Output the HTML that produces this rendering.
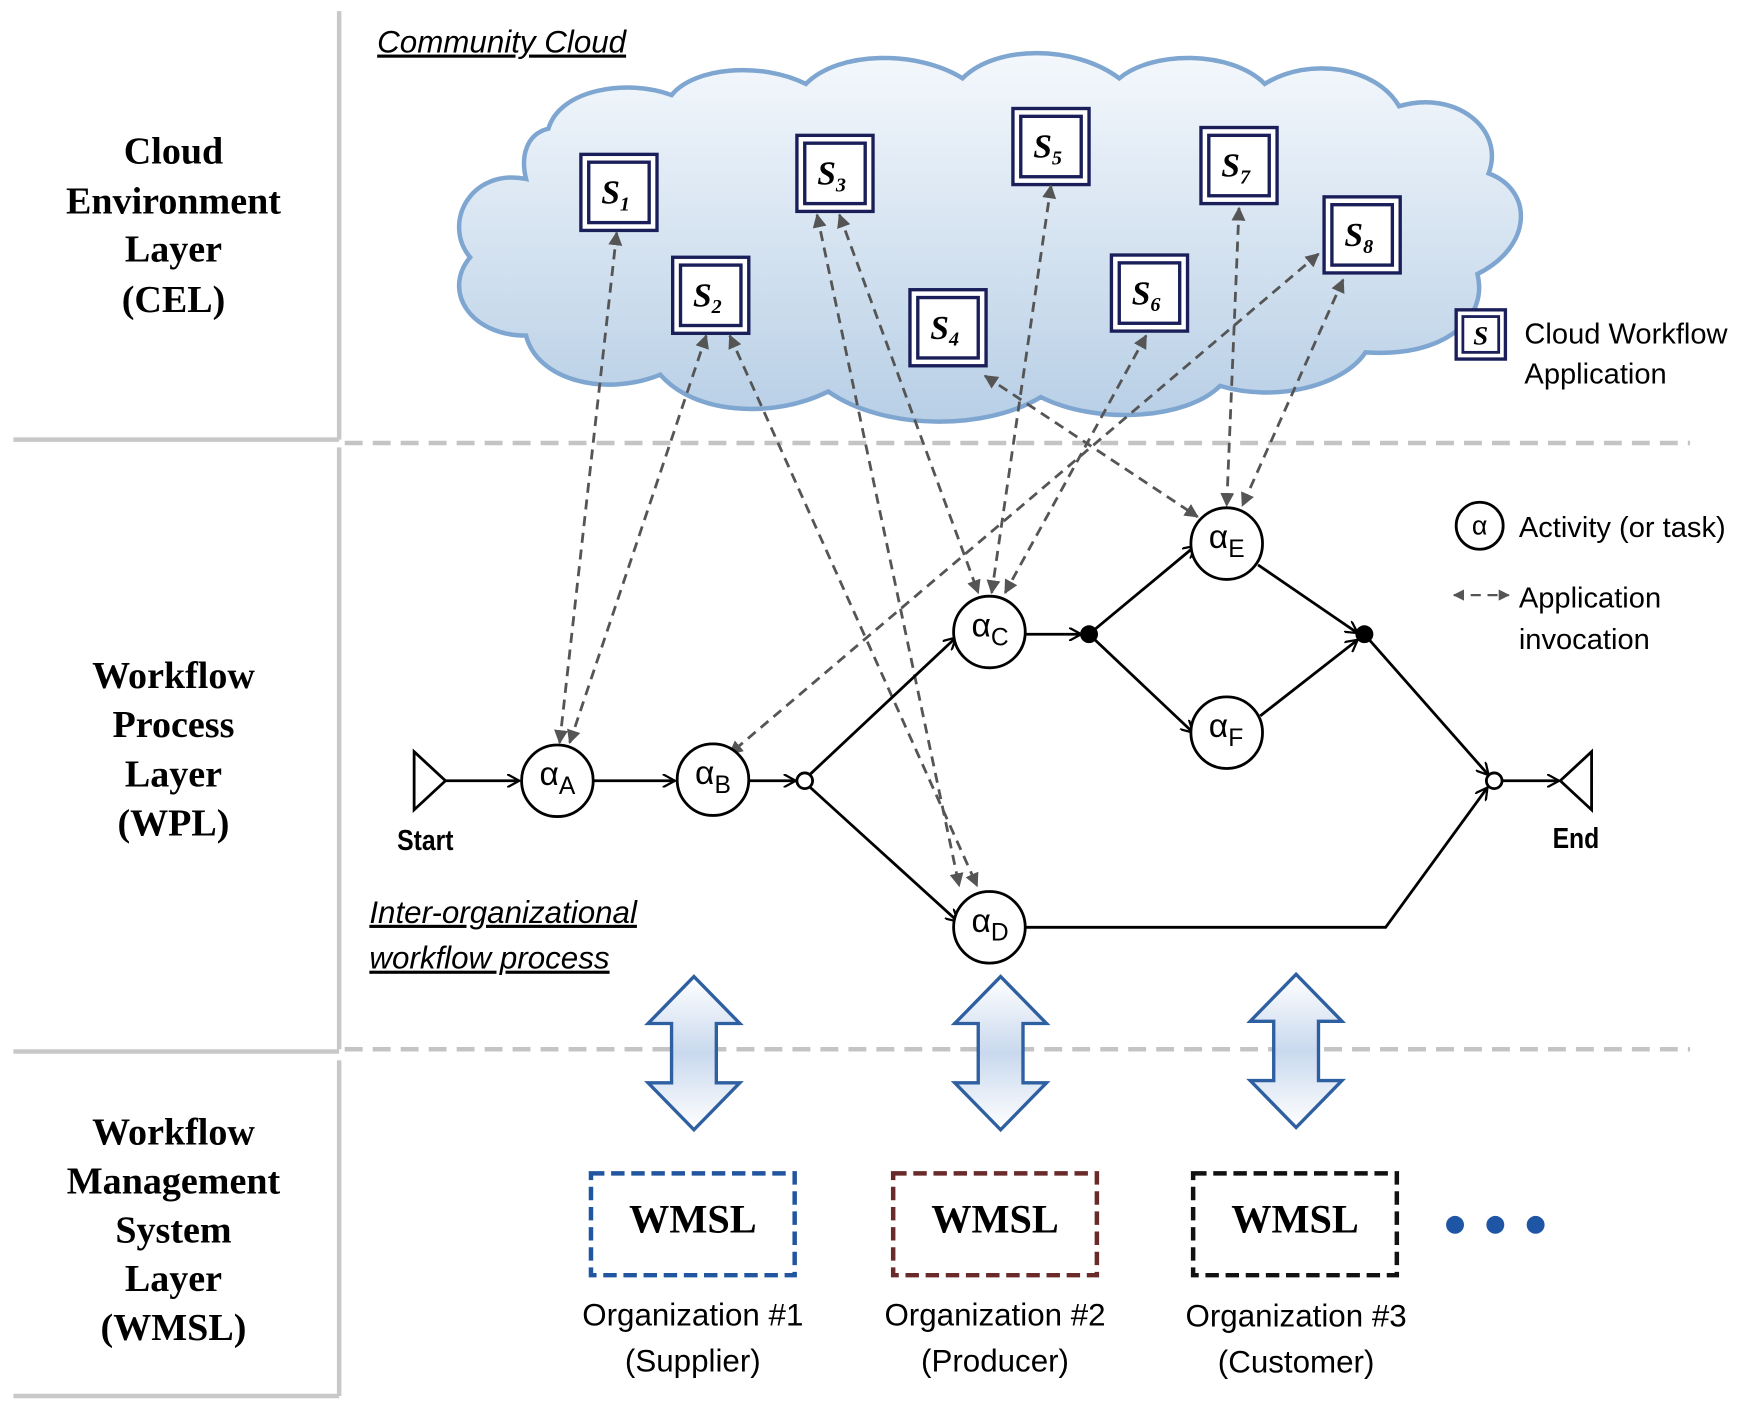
<!DOCTYPE html>
<html><head><meta charset="utf-8"><style>html,body{margin:0;padding:0;background:#fff}svg{display:block}</style></head>
<body>
<svg width="1755" height="1415" viewBox="0 0 1568 1265" preserveAspectRatio="none" xmlns="http://www.w3.org/2000/svg">
<defs>
<marker id="da" viewBox="0 0 10 10" refX="9" refY="5" markerWidth="5" markerHeight="5" orient="auto-start-reverse"><path d="M0,0 L10,5 L0,10 z" fill="#555"/></marker>
<marker id="sa" viewBox="0 0 12 12" refX="11" refY="6" markerWidth="12" markerHeight="12" markerUnits="userSpaceOnUse" orient="auto"><path d="M0,0 L11,6 L0,12" fill="none" stroke="#000" stroke-width="2"/></marker>
<linearGradient id="cg" x1="0" y1="0" x2="0" y2="1"><stop offset="0" stop-color="#f4f8fc"/><stop offset="1" stop-color="#b8cfe6"/></linearGradient>
<linearGradient id="ag" x1="0" y1="0" x2="0" y2="1"><stop offset="0" stop-color="#fff"/><stop offset="0.5" stop-color="#c9d9ee"/><stop offset="1" stop-color="#fff"/></linearGradient>
</defs>
<!-- left panels -->
<g fill="none" stroke="#c8c8c8" stroke-width="4">
<line x1="303" y1="10" x2="303" y2="393"/><line x1="12" y1="393" x2="303" y2="393"/>
<line x1="303" y1="400" x2="303" y2="938"/><line x1="12" y1="940" x2="303" y2="940"/>
<line x1="303" y1="948" x2="303" y2="1248"/><line x1="12" y1="1248" x2="303" y2="1248"/>
</g>
<g stroke="#c4c4c4" stroke-width="4" stroke-dasharray="16,9"><line x1="308" y1="396" x2="1510" y2="396"/><line x1="308" y1="938" x2="1510" y2="938"/></g>
<g font-family="Liberation Serif, serif" font-weight="bold" font-size="34" text-anchor="middle" fill="#000">
<text x="155" y="146">Cloud</text><text x="155" y="191">Environment</text><text x="155" y="234">Layer</text><text x="155" y="279">(CEL)</text>
<text x="155" y="615">Workflow</text><text x="155" y="659">Process</text><text x="155" y="703">Layer</text><text x="155" y="747">(WPL)</text>
<text x="155" y="1023">Workflow</text><text x="155" y="1067">Management</text><text x="155" y="1111">System</text><text x="155" y="1154">Layer</text><text x="155" y="1198">(WMSL)</text>
</g>
<!-- cloud -->
<path d="M470,160 C420,150 395,200 420,230 C395,260 420,300 470,300 C480,340 540,355 590,335 C620,370 690,375 740,350 C790,385 880,385 930,355 C980,380 1060,375 1090,345 C1140,360 1200,345 1220,315 C1290,320 1330,285 1320,245 C1370,220 1370,170 1330,155 C1345,115 1300,80 1250,95 C1230,60 1170,50 1130,75 C1100,45 1030,45 1000,70 C960,40 890,40 860,70 C820,45 750,45 720,75 C680,55 620,60 600,85 C560,70 500,80 490,115 C470,120 465,140 470,160 z" fill="url(#cg)" stroke="#7ea6d0" stroke-width="4"/>
<text x="337" y="47" font-family="Liberation Sans, sans-serif" font-style="italic" font-size="28" fill="#000" text-decoration="underline">Community Cloud</text>
<!-- S boxes -->
<g font-family="Liberation Serif, serif" font-style="italic" font-weight="bold" font-size="30" text-anchor="middle">
<g transform="translate(553,172)"><rect x="-34" y="-34" width="68" height="68" fill="#fff" stroke="#1a1f5a" stroke-width="3"/><rect x="-27" y="-27" width="54" height="54" fill="none" stroke="#1a1f5a" stroke-width="3"/><text x="-3" y="10">S<tspan font-size="18" dy="6">1</tspan></text></g>
<g transform="translate(635,264)"><rect x="-34" y="-34" width="68" height="68" fill="#fff" stroke="#1a1f5a" stroke-width="3"/><rect x="-27" y="-27" width="54" height="54" fill="none" stroke="#1a1f5a" stroke-width="3"/><text x="-3" y="10">S<tspan font-size="18" dy="6">2</tspan></text></g>
<g transform="translate(746,155)"><rect x="-34" y="-34" width="68" height="68" fill="#fff" stroke="#1a1f5a" stroke-width="3"/><rect x="-27" y="-27" width="54" height="54" fill="none" stroke="#1a1f5a" stroke-width="3"/><text x="-3" y="10">S<tspan font-size="18" dy="6">3</tspan></text></g>
<g transform="translate(847,293)"><rect x="-34" y="-34" width="68" height="68" fill="#fff" stroke="#1a1f5a" stroke-width="3"/><rect x="-27" y="-27" width="54" height="54" fill="none" stroke="#1a1f5a" stroke-width="3"/><text x="-3" y="10">S<tspan font-size="18" dy="6">4</tspan></text></g>
<g transform="translate(939,131)"><rect x="-34" y="-34" width="68" height="68" fill="#fff" stroke="#1a1f5a" stroke-width="3"/><rect x="-27" y="-27" width="54" height="54" fill="none" stroke="#1a1f5a" stroke-width="3"/><text x="-3" y="10">S<tspan font-size="18" dy="6">5</tspan></text></g>
<g transform="translate(1027,262)"><rect x="-34" y="-34" width="68" height="68" fill="#fff" stroke="#1a1f5a" stroke-width="3"/><rect x="-27" y="-27" width="54" height="54" fill="none" stroke="#1a1f5a" stroke-width="3"/><text x="-3" y="10">S<tspan font-size="18" dy="6">6</tspan></text></g>
<g transform="translate(1107,148)"><rect x="-34" y="-34" width="68" height="68" fill="#fff" stroke="#1a1f5a" stroke-width="3"/><rect x="-27" y="-27" width="54" height="54" fill="none" stroke="#1a1f5a" stroke-width="3"/><text x="-3" y="10">S<tspan font-size="18" dy="6">7</tspan></text></g>
<g transform="translate(1217,210)"><rect x="-34" y="-34" width="68" height="68" fill="#fff" stroke="#1a1f5a" stroke-width="3"/><rect x="-27" y="-27" width="54" height="54" fill="none" stroke="#1a1f5a" stroke-width="3"/><text x="-3" y="10">S<tspan font-size="18" dy="6">8</tspan></text></g>
<g transform="translate(1323,299)"><rect x="-22" y="-22" width="44" height="44" fill="#fff" stroke="#1a1f5a" stroke-width="3"/><rect x="-16" y="-16" width="32" height="32" fill="none" stroke="#1a1f5a" stroke-width="2.5"/><text x="0" y="9" font-size="24">S</text></g>
</g>
<g font-family="Liberation Sans, sans-serif" font-size="26" fill="#000">
<text x="1362" y="307">Cloud Workflow</text><text x="1362" y="343">Application</text>
<text x="1357" y="480">Activity (or task)</text><text x="1357" y="543">Application</text><text x="1357" y="580">invocation</text>
</g>
<!-- dashed invocations -->
<g stroke="#555" stroke-width="2.5" stroke-dasharray="9,6" fill="none" marker-start="url(#da)" marker-end="url(#da)">
<line x1="551" y1="208" x2="500" y2="664"/>
<line x1="631" y1="300" x2="509" y2="664"/>
<line x1="652" y1="300" x2="873" y2="792"/>
<line x1="730" y1="192" x2="857" y2="792"/>
<line x1="750" y1="192" x2="874" y2="530"/>
<line x1="880" y1="336" x2="1070" y2="462"/>
<line x1="939" y1="166" x2="886" y2="530"/>
<line x1="1024" y1="300" x2="898" y2="530"/>
<line x1="1107" y1="186" x2="1096" y2="452"/>
<line x1="1178" y1="227" x2="652" y2="674"/>
<line x1="1200" y1="250" x2="1110" y2="452"/>
<line x1="1299" y1="532" x2="1348" y2="532" stroke-width="2"/>
</g>
<!-- solid flows -->
<g stroke="#000" stroke-width="2.5" fill="none">
<path d="M370,672 L398,698 L370,724 z" stroke-width="2.5"/>
<path d="M1422,672 L1394,698 L1422,724 z"/>
<line x1="398" y1="698" x2="464" y2="698" marker-end="url(#sa)"/>
<line x1="530" y1="698" x2="603" y2="698" marker-end="url(#sa)"/>
<line x1="669" y1="698" x2="711" y2="698" marker-end="url(#sa)"/>
<line x1="724" y1="692" x2="854" y2="570" marker-end="url(#sa)"/>
<line x1="724" y1="704" x2="856" y2="824" marker-end="url(#sa)"/>
<line x1="916" y1="567" x2="966" y2="567" marker-end="url(#sa)"/>
<line x1="973" y1="567" x2="1068" y2="488" marker-end="url(#sa)"/>
<line x1="973" y1="567" x2="1066" y2="655" marker-end="url(#sa)"/>
<line x1="1124" y1="505" x2="1213" y2="566" marker-end="url(#sa)"/>
<line x1="1126" y1="640" x2="1213" y2="572" marker-end="url(#sa)"/>
<line x1="1219" y1="567" x2="1330" y2="693" marker-end="url(#sa)"/>
<polyline points="916,829 1238,829 1329,704" marker-end="url(#sa)"/>
<line x1="1342" y1="698" x2="1393" y2="698" marker-end="url(#sa)"/>
<circle cx="719" cy="698" r="7" fill="#fff"/><circle cx="1335" cy="698" r="7" fill="#fff"/>
<g fill="#fff"><circle cx="498" cy="698" r="32"/><circle cx="637" cy="697" r="32"/><circle cx="884" cy="565" r="32"/><circle cx="884" cy="829" r="32"/><circle cx="1096" cy="486" r="32"/><circle cx="1096" cy="655" r="32"/><circle cx="1322" cy="470" r="21"/></g>
</g>
<circle cx="973" cy="567" r="8" fill="#000"/><circle cx="1219" cy="567" r="8" fill="#000"/>
<g font-family="Liberation Sans, sans-serif" font-size="30" fill="#000">
<text x="482" y="702">α<tspan font-size="22" dy="8">A</tspan></text>
<text x="621" y="701">α<tspan font-size="22" dy="8">B</tspan></text>
<text x="868" y="569">α<tspan font-size="22" dy="8">C</tspan></text>
<text x="868" y="833">α<tspan font-size="22" dy="8">D</tspan></text>
<text x="1080" y="490">α<tspan font-size="22" dy="8">E</tspan></text>
<text x="1080" y="659">α<tspan font-size="22" dy="8">F</tspan></text>
<text x="1322" y="478" font-size="24" text-anchor="middle">α</text>
</g>
<g font-family="Liberation Sans Narrow, Liberation Sans, sans-serif" font-size="26" fill="#000" font-weight="bold">
<text x="380" y="760" text-anchor="middle" transform="translate(380,0) scale(0.85,1) translate(-380,0)">Start</text>
<text x="1408" y="758" text-anchor="middle" transform="translate(1408,0) scale(0.85,1) translate(-1408,0)">End</text>
</g>
<g font-family="Liberation Sans, sans-serif" font-style="italic" font-size="28" fill="#000" text-decoration="underline">
<text x="330" y="825">Inter-organizational</text><text x="330" y="866">workflow process</text>
</g>
<!-- big arrows -->
<g fill="url(#ag)" stroke="#2e5fa0" stroke-width="3">
<path d="M620,873 L661,915 L640,915 L640,968 L661,968 L620,1010 L579,968 L600,968 L600,915 L579,915 z"/>
<path d="M894,873 L935,915 L914,915 L914,968 L935,968 L894,1010 L853,968 L874,968 L874,915 L853,915 z"/>
<path d="M1158,871 L1199,913 L1178,913 L1178,966 L1199,966 L1158,1008 L1117,966 L1138,966 L1138,913 L1117,913 z"/>
</g>
<!-- WMSL boxes -->
<g fill="none" stroke-width="4" stroke-dasharray="12,6">
<rect x="528" y="1049" width="182" height="91" stroke="#2255a0"/>
<rect x="798" y="1049" width="182" height="91" stroke="#6b2a2a"/>
<rect x="1066" y="1049" width="182" height="91" stroke="#111"/>
</g>
<g font-family="Liberation Serif, serif" font-weight="bold" font-size="36" text-anchor="middle" fill="#000">
<text x="619" y="1102">WMSL</text><text x="889" y="1102">WMSL</text><text x="1157" y="1102">WMSL</text>
</g>
<g font-family="Liberation Sans, sans-serif" font-size="28" text-anchor="middle" fill="#000">
<text x="619" y="1185">Organization #1</text><text x="619" y="1226">(Supplier)</text>
<text x="889" y="1185">Organization #2</text><text x="889" y="1226">(Producer)</text>
<text x="1158" y="1186">Organization #3</text><text x="1158" y="1227">(Customer)</text>
</g>
<g fill="#1f55a5"><circle cx="1300" cy="1095" r="8"/><circle cx="1336" cy="1095" r="8"/><circle cx="1372" cy="1095" r="8"/></g>
</svg>
</body></html>
